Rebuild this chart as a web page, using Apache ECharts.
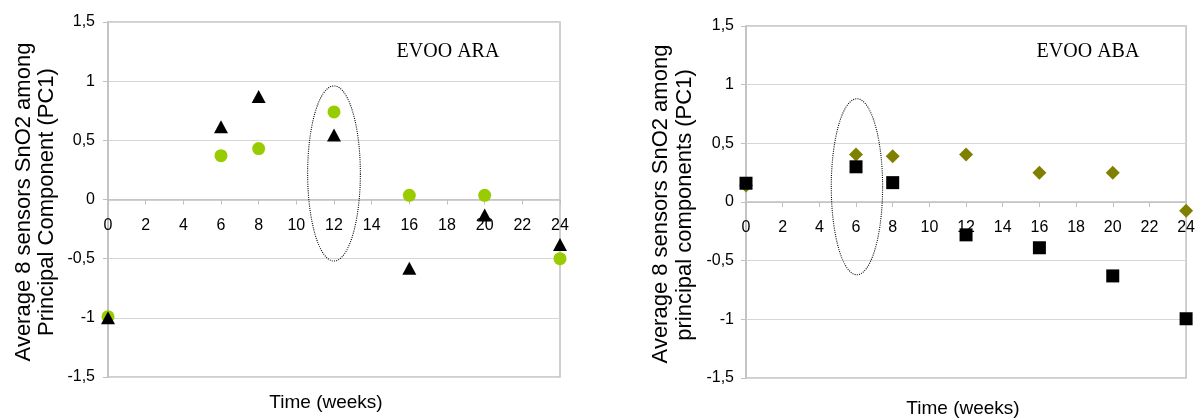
<!DOCTYPE html>
<html>
<head>
<meta charset="utf-8">
<script src="https://cdn.jsdelivr.net/npm/echarts@6/dist/echarts.min.js"></script>
<style>
html,body{margin:0;padding:0;background:#fff;}
#c{width:1198px;height:419px;}
</style>
</head>
<body>
<div id="c"></div>
<script>
// ---- data ----
const weeks = [0, 6, 8, 12, 16, 20, 24];
const araCircles   = [-0.99, 0.37, 0.43, 0.74, 0.035, 0.035, -0.50];
const araTriangles = [-1.00, 0.615, 0.87, 0.545, -0.58, -0.13, -0.38];
const abaDiamonds  = [0.14, 0.405, 0.39, 0.405, 0.25, 0.25, -0.075];
const abaSquares   = [0.16, 0.30, 0.165, -0.28, -0.39, -0.63, -0.995];
// ellipse highlight: [centre week, centre value, half-width (weeks), half-height (value)]
const araEllipse = [12, 0.22, 1.4, 0.74];
const abaEllipse = [6.05, 0.13, 1.4, 0.75];
const xTickLabels = ['0','2','4','6','8','10','12','14','16','18','20','22','24'];
const yTickLabels = ['-1,5','-1','-0,5','0','0,5','1','1,5'];
const titles = ['EVOO ARA', 'EVOO ABA'];
const yTitlesLeft  = ['Average 8 sensors SnO2 among', 'Principal Component (PC1)'];
const yTitlesRight = ['Average 8 sensors SnO2 among', 'principal components (PC1)'];
const xTitle = 'Time (weeks)';

const pairs = (xs, ys) => xs.map((x, i) => [x, ys[i]]);

const chart = echarts.init(document.getElementById('c'), null, {renderer: 'canvas'});

const axisGray = '#c0c0c0';
const gridGray = '#d6d6d6';
const sans = '"Liberation Sans", Arial, sans-serif';
const serif = '"Liberation Serif", "Times New Roman", serif';

const grids = [
  {left: 108, top: 22, width: 452, height: 355},
  {left: 746, top: 26, width: 450, height: 352}
];

// x axis sits on the value 0 line (middle of the -1.5..1.5 range)
function xAxisCfg(gi) {
  return {
    type: 'value', gridIndex: gi, min: 0, max: 24, interval: 2,
    position: 'bottom', offset: -grids[gi].height / 2,
    axisLine: {onZero: false, lineStyle: {color: axisGray, width: 1.5}},
    axisTick: {show: true, inside: false, length: 5, lineStyle: {color: axisGray}},
    axisLabel: {color: '#000', fontSize: 16, fontFamily: sans, margin: 18,
      formatter: v => xTickLabels[Math.round(v / 2)]},
    splitLine: {show: false}
  };
}
function yAxisCfg(gi, margin) {
  return {
    type: 'value', gridIndex: gi, min: -1.5, max: 1.5, interval: 0.5,
    axisLine: {show: true, onZero: false, lineStyle: {color: axisGray, width: 1.5}},
    axisTick: {show: true, inside: false, length: 5, lineStyle: {color: axisGray}},
    axisLabel: {color: '#000', fontSize: 16, fontFamily: sans, margin: margin,
      formatter: v => yTickLabels[Math.round((v + 1.5) / 0.5)]},
    splitLine: {show: true, lineStyle: {color: gridGray, width: 1}}
  };
}

function ellipseSeries(gi, params) {
  return {
    type: 'custom', xAxisIndex: gi, yAxisIndex: gi, clip: false, z: 10,
    data: [params],
    encode: {x: 0, y: 1},
    renderItem: function (p, api) {
      const cx = api.value(0), cy = api.value(1), rx = api.value(2), ry = api.value(3);
      const pts = [];
      for (let k = 0; k <= 160; k++) {
        const t = k / 160 * Math.PI * 2;
        pts.push(api.coord([cx + rx * Math.cos(t), cy + ry * Math.sin(t)]));
      }
      return {type: 'polyline', shape: {points: pts},
        style: {fill: null, stroke: '#000', lineWidth: 1.1, lineDash: [1, 1.2]}};
    }
  };
}

function textEl(text, x, y, font, size, rotate) {
  return {type: 'text', x: x, y: y, rotation: rotate || 0, z: 20,
    style: {text: text, fill: '#000', font: size + 'px ' + font,
      textAlign: 'center', textVerticalAlign: 'middle'}};
}

const solid = c => ({color: c, opacity: 1});

const option = {
  animation: false,
  backgroundColor: '#fff',
  grid: grids.map(g => Object.assign({show: true, borderColor: axisGray, borderWidth: 1.5, backgroundColor: 'transparent'}, g)),
  xAxis: [xAxisCfg(0), xAxisCfg(1)],
  yAxis: [yAxisCfg(0, 13), yAxisCfg(1, 12)],
  series: [
    {type: 'scatter', xAxisIndex: 0, yAxisIndex: 0, clip: false, symbol: 'circle', symbolSize: 13,
      itemStyle: solid('#99cc00'), data: pairs(weeks, araCircles)},
    {type: 'scatter', xAxisIndex: 0, yAxisIndex: 0, clip: false, symbol: 'triangle', symbolSize: [14, 13],
      itemStyle: solid('#000'), data: pairs(weeks, araTriangles)},
    ellipseSeries(0, araEllipse),
    {type: 'scatter', xAxisIndex: 1, yAxisIndex: 1, clip: false, symbol: 'diamond', symbolSize: [14, 14],
      itemStyle: solid('#808000'), data: pairs(weeks, abaDiamonds)},
    {type: 'scatter', xAxisIndex: 1, yAxisIndex: 1, clip: false, symbol: 'rect', symbolSize: 13,
      itemStyle: solid('#000'), data: pairs(weeks, abaSquares)},
    ellipseSeries(1, abaEllipse)
  ],
  graphic: [
    textEl(titles[0], 448, 52, serif, 20),
    textEl(titles[1], 1088, 52, serif, 20),
    textEl(yTitlesLeft[0], 24, 202, sans, 22, Math.PI / 2),
    textEl(yTitlesLeft[1], 47, 202, sans, 22, Math.PI / 2),
    textEl(yTitlesRight[0], 661, 204, sans, 22, Math.PI / 2),
    textEl(yTitlesRight[1], 685, 205, sans, 22, Math.PI / 2),
    textEl(xTitle, 326, 403, sans, 19),
    textEl(xTitle, 963, 409, sans, 19)
  ]
};
chart.setOption(option);
</script>
</body>
</html>
